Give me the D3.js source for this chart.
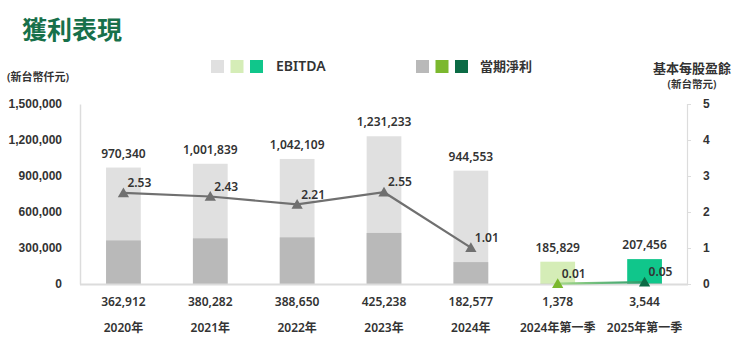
<!DOCTYPE html>
<html><head><meta charset="utf-8">
<script src="https://cdn.jsdelivr.net/npm/d3@7"></script>
<style>
html,body{margin:0;padding:0;background:#fff;}
svg{display:block;font-family:"Noto Sans","Noto Sans CJK TC",sans-serif;}
</style></head>
<body><svg id="c" width="740" height="341"></svg>
<script>
const categories = ["2020年","2021年","2022年","2023年","2024年","2024年第一季","2025年第一季"];
const ebitda = [970340,1001839,1042109,1231233,944553,185829,207456];
const netProfit = [362912,380282,388650,425238,182577,1378,3544];
const eps = [2.53,2.43,2.21,2.55,1.01,0.01,0.05];
const leftTicks = [0,300000,600000,900000,1200000,1500000];
const rightTicks = [0,1,2,3,4,5];
const ebitdaColors = ["#e0e0e0","#e0e0e0","#e0e0e0","#e0e0e0","#e0e0e0","#d5edb7","#10c68b"];
const netColors = ["#b9b9b9","#b9b9b9","#b9b9b9","#b9b9b9","#b9b9b9","#7bb82e","#0b6b45"];
const markerColors = ["#707070","#707070","#707070","#707070","#707070","#7bb82e","#0b6b45"];

const svg = d3.select("#c");
const x = d3.scaleBand().domain(categories).range([80,688]).padding(0);
const yL = d3.scaleLinear().domain([0,1500000]).range([284,104]);
const yR = d3.scaleLinear().domain([0,5]).range([284,104]);
const bw = x.bandwidth()*0.4;
const cx = d => x(d)+x.bandwidth()/2;
const txt = "#333";

// title
svg.append("text").attr("x",22).attr("y",39).attr("font-size",25).attr("font-weight",700)
  .attr("fill","#17704a").text("獲利表現");

// legend
const lg1 = [ebitdaColors[0],ebitdaColors[5],ebitdaColors[6]];
const lg2 = [netColors[0],netColors[5],netColors[6]];
lg1.forEach((c,i)=>svg.append("rect").attr("x",211+i*19.5).attr("y",60).attr("width",13).attr("height",13).attr("fill",c));
svg.append("text").attr("x",276).attr("y",71).attr("font-size",14).attr("font-weight",600).attr("fill",txt).text("EBITDA");
lg2.forEach((c,i)=>svg.append("rect").attr("x",416+i*19.5).attr("y",60).attr("width",13).attr("height",13).attr("fill",c));
svg.append("text").attr("x",480).attr("y",71).attr("font-size",13).attr("font-weight",600).attr("fill",txt).text("當期淨利");

// unit labels
svg.append("text").attr("x",7).attr("y",81).attr("font-size",11).attr("font-weight",600).attr("fill",txt).text("(新台幣仟元)");
svg.append("text").attr("x",692).attr("y",73).attr("text-anchor","middle").attr("font-size",13).attr("font-weight",600).attr("fill",txt).text("基本每股盈餘");
svg.append("text").attr("x",692).attr("y",88).attr("text-anchor","middle").attr("font-size",10.5).attr("font-weight",600).attr("fill",txt).text("(新台幣元)");

// left axis
const axL = svg.append("g").attr("transform","translate(80,0)")
  .call(d3.axisLeft(yL).tickValues(leftTicks).tickSize(0).tickPadding(18).tickFormat(d3.format(",")));
axL.select(".domain").attr("stroke","#dcdcdc").attr("stroke-width",1.5);
axL.selectAll("text").attr("font-size",12).attr("font-weight",600).attr("fill",txt).attr("font-family",null);

// right axis
const axR = svg.append("g").attr("transform","translate(687,0)")
  .call(d3.axisRight(yR).tickValues(rightTicks).tickSize(4).tickPadding(12).tickFormat(d3.format("d")));
axR.select(".domain").attr("stroke","#dcdcdc").attr("stroke-width",1.2);
axR.selectAll(".tick line").attr("stroke","#dcdcdc");
axR.selectAll("text").attr("font-size",12).attr("font-weight",600).attr("fill",txt).attr("font-family",null);

// bars
svg.selectAll(".eb").data(categories).join("rect")
  .attr("x",d=>cx(d)-bw/2).attr("width",bw)
  .attr("y",(d,i)=>yL(ebitda[i])).attr("height",(d,i)=>yL(0)-yL(ebitda[i]))
  .attr("fill",(d,i)=>ebitdaColors[i]);
svg.selectAll(".np").data(categories).join("rect")
  .attr("x",d=>cx(d)-bw/2).attr("width",bw)
  .attr("y",(d,i)=>yL(netProfit[i])).attr("height",(d,i)=>yL(0)-yL(netProfit[i]))
  .attr("fill",(d,i)=>netColors[i]);

// baseline
svg.append("line").attr("x1",80).attr("x2",688).attr("y1",yL(0)+0.5).attr("y2",yL(0)+0.5)
  .attr("stroke","#dcdcdc").attr("stroke-width",2);

// value labels
svg.selectAll(".ebl").data(categories).join("text")
  .attr("x",d=>cx(d)).attr("y",(d,i)=>yL(ebitda[i])-14).attr("dy","0.35em")
  .attr("text-anchor","middle").attr("font-size",12).attr("font-weight",600).attr("fill",txt)
  .text((d,i)=>d3.format(",")(ebitda[i]));
svg.selectAll(".npl").data(categories).join("text")
  .attr("x",d=>cx(d)).attr("y",302).attr("dy","0.35em")
  .attr("text-anchor","middle").attr("font-size",12).attr("font-weight",600).attr("fill",txt)
  .text((d,i)=>d3.format(",")(netProfit[i]));
svg.selectAll(".cat").data(categories).join("text")
  .attr("x",d=>cx(d)).attr("y",328).attr("dy","0.35em")
  .attr("text-anchor","middle").attr("font-size",12).attr("font-weight",600).attr("fill",txt)
  .text(d=>d);

// EPS lines
const line = d3.line().x(d=>cx(d)).y(d=>yR(eps[categories.indexOf(d)]));
svg.append("path").datum(categories.slice(0,5)).attr("d",line)
  .attr("fill","none").attr("stroke","#707070").attr("stroke-width",2.2);
const defs = svg.append("defs");
const grad = defs.append("linearGradient").attr("id","qg").attr("gradientUnits","userSpaceOnUse")
  .attr("x1",cx(categories[5])).attr("x2",cx(categories[6])).attr("y1",0).attr("y2",0);
grad.append("stop").attr("offset","0%").attr("stop-color","#a6d88a");
grad.append("stop").attr("offset","100%").attr("stop-color","#2a9a6a");
svg.append("path").datum(categories.slice(5)).attr("d",line)
  .attr("fill","none").attr("stroke","url(#qg)").attr("stroke-width",2.2);

// markers
svg.selectAll(".mk").data(categories).join("path")
  .attr("d",d3.symbol(d3.symbolTriangle,55))
  .attr("transform",(d,i)=>`translate(${cx(d)},${yR(eps[i])+1})`)
  .attr("fill",(d,i)=>markerColors[i]);

// EPS labels
svg.selectAll(".epl").data(categories).join("text")
  .attr("x",d=>cx(d)+4).attr("y",(d,i)=>yR(eps[i])-10).attr("dy","0.35em")
  .attr("font-size",12).attr("font-weight",600).attr("fill",txt)
  .text((d,i)=>d3.format(".2f")(eps[i]));
</script></body></html>
